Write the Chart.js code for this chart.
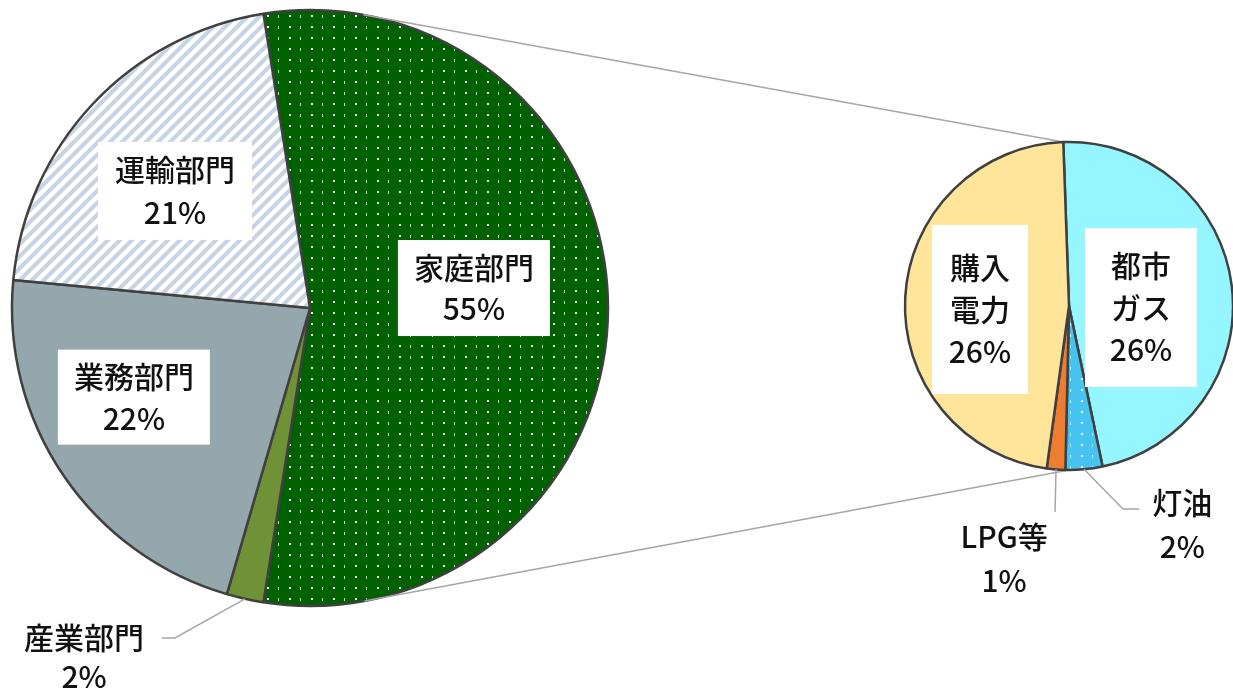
<!DOCTYPE html>
<html lang="ja">
<head>
<meta charset="utf-8">
<title>家庭部門のエネルギー消費</title>
<script src="https://cdn.jsdelivr.net/npm/chart.js@4.4.1/dist/chart.umd.min.js"></script>
<style>
  html, body { margin: 0; padding: 0; background: #fff; }
  #wrap { position: relative; width: 1233px; height: 691px; }
  #wrap canvas { position: absolute; left: 0; top: 0; }
</style>
</head>
<body>
<div id="wrap">
  <canvas id="chart-sector" width="1233" height="691"></canvas>
  <canvas id="chart-home" width="1233" height="691"></canvas>
</div>
<script>
// --- データ ---
// 部門別 (%)
const sectorLabels = ['家庭部門', '産業部門', '業務部門', '運輸部門'];
const sectorValues = [55, 2, 22, 21];

// 家庭部門の内訳 (全体に対する %)
const homeLabels = ['都市ガス', '灯油', 'LPG等', '購入電力'];
const homeValues = [26, 2, 1, 26];
const homeLabelLines = [['都市', 'ガス'], ['灯油'], ['LPG等'], ['購入', '電力']];

// --- ラベル配置 (半径単位, 円の中心から) ---
const sectorLayout = [
  { index: 0, box: [0.55, -0.067], size: [152, 96], lineH: 41 },
  { index: 1, leader: [[-0.453, 1.107], [-0.497, 1.107]], text: [-0.758, 1.173], lineH: 39 },
  { index: 2, box: [-0.591, 0.299], size: [152, 95], lineH: 42 },
  { index: 3, box: [-0.453, -0.393], size: [154, 98], lineH: 43 }
];
const homeLayout = [
  { index: 0, box: [0.439, 0.009], size: [112, 159], lineH: 42 },
  { index: 1, leader: [[0.329, 1.238], [0.427, 1.238]], text: [0.691, 1.335], lineH: 44 },
  { index: 2, leader: [[-0.085, 1.256]], text: [-0.396, 1.543], lineH: 44 },
  { index: 3, box: [-0.543, 0.021], size: [96, 169], lineH: 42 }
];

const FONT = '500 30px "Noto Sans CJK JP", "Noto Sans", sans-serif';
const TEXT_COLOR = '#111111';
const LINE_COLOR = '#a6a6a6';
const EDGE_COLOR = '#404040';

// --- パターン ---
function dotPattern(canvas, bg) {
  const t = document.createElement('canvas');
  t.width = 22; t.height = 11;
  const g = t.getContext('2d');
  g.fillStyle = bg;
  g.fillRect(0, 0, 22, 11);
  g.fillStyle = 'rgba(255,255,255,1)';
  g.fillRect(3, 4, 2, 2);
  g.fillStyle = 'rgba(255,255,255,0.75)';
  g.fillRect(14, 4, 1, 3);
  return canvas.getContext('2d').createPattern(t, 'repeat');
}

function stripePattern(canvas, bg, fg) {
  const t = document.createElement('canvas');
  t.width = 12; t.height = 12;
  const g = t.getContext('2d');
  g.fillStyle = bg;
  g.fillRect(0, 0, 12, 12);
  g.strokeStyle = fg;
  g.lineWidth = 4.2;
  g.beginPath();
  g.moveTo(-6, 6); g.lineTo(6, -6);
  g.moveTo(0, 12); g.lineTo(12, 0);
  g.moveTo(6, 18); g.lineTo(18, 6);
  g.stroke();
  return canvas.getContext('2d').createPattern(t, 'repeat');
}

// --- ラベル描画プラグイン ---
function makeLabelPlugin(layout, values, textOf) {
  return {
    id: 'boxLabels',
    afterDatasetsDraw(chart) {
      const ctx = chart.ctx;
      const arcs = chart.getDatasetMeta(0).data;
      const { x: cx, y: cy, outerRadius: r } = arcs[0].getProps(['x', 'y', 'outerRadius'], true);
      const px = p => cx + p[0] * r;
      const py = p => cy + p[1] * r;

      ctx.save();
      ctx.font = FONT;
      ctx.textAlign = 'center';
      ctx.textBaseline = 'middle';

      layout.forEach(item => {
        const lines = textOf(item.index).concat([values[item.index] + '%']);
        let tx, ty;
        if (item.box) {
          tx = px(item.box); ty = py(item.box);
          const [w, h] = item.size;
          ctx.fillStyle = '#ffffff';
          ctx.fillRect(tx - w / 2, ty - h / 2, w, h);
        } else {
          const arc = arcs[item.index].getProps(['startAngle', 'endAngle'], true);
          const mid = (arc.startAngle + arc.endAngle) / 2;
          ctx.strokeStyle = LINE_COLOR;
          ctx.lineWidth = 1.5;
          ctx.beginPath();
          ctx.moveTo(cx + Math.cos(mid) * r, cy + Math.sin(mid) * r);
          item.leader.forEach(p => ctx.lineTo(px(p), py(p)));
          ctx.stroke();
          tx = px(item.text); ty = py(item.text);
        }
        ctx.fillStyle = TEXT_COLOR;
        const top = ty - (lines.length - 1) * item.lineH / 2;
        lines.forEach((t, i) => ctx.fillText(t, tx, top + i * item.lineH));
      });
      ctx.restore();
    }
  };
}

const sectorCanvas = document.getElementById('chart-sector');
const homeCanvas = document.getElementById('chart-home');

const sectorChart = new Chart(sectorCanvas, {
  type: 'pie',
  data: {
    labels: sectorLabels,
    datasets: [{
      data: sectorValues,
      backgroundColor: [
        dotPattern(sectorCanvas, '#006100'),
        '#6f9236',
        '#94a7ac',
        stripePattern(sectorCanvas, '#ffffff', '#c8d4e3')
      ],
      borderColor: EDGE_COLOR,
      borderWidth: 2.5
    }]
  },
  options: {
    responsive: false,
    animation: false,
    devicePixelRatio: 1,
    rotation: -9,
    radius: 298,
    layout: { padding: { left: 10, top: 8, right: 623, bottom: 83 } },
    plugins: { legend: { display: false }, tooltip: { enabled: false } }
  },
  plugins: [makeLabelPlugin(sectorLayout, sectorValues, i => [sectorLabels[i]])]
});

// 左の円と右の円をつなぐ線
const connectorPlugin = {
  id: 'connector',
  beforeDatasetsDraw(chart) {
    const big = sectorChart.getDatasetMeta(0).data[0].getProps(['x', 'y', 'outerRadius'], true);
    const small = chart.getDatasetMeta(0).data[0].getProps(['x', 'y', 'outerRadius', 'startAngle'], true);
    const ends = [
      { x: small.x + Math.cos(small.startAngle) * small.outerRadius,
        y: small.y + Math.sin(small.startAngle) * small.outerRadius, side: -1 },
      { x: small.x, y: small.y + small.outerRadius, side: 1 }
    ];
    const ctx = chart.ctx;
    ctx.save();
    ctx.strokeStyle = LINE_COLOR;
    ctx.lineWidth = 1.5;
    ends.forEach(p => {
      const dx = p.x - big.x, dy = p.y - big.y;
      const d = Math.hypot(dx, dy);
      const a = Math.atan2(dy, dx) + p.side * Math.acos(big.outerRadius / d);
      ctx.beginPath();
      ctx.moveTo(big.x + Math.cos(a) * big.outerRadius, big.y + Math.sin(a) * big.outerRadius);
      ctx.lineTo(p.x, p.y);
      ctx.stroke();
    });
    ctx.restore();
  }
};

const homeChart = new Chart(homeCanvas, {
  type: 'pie',
  data: {
    labels: homeLabels,
    datasets: [{
      data: homeValues,
      backgroundColor: [
        '#95f6ff',
        dotPattern(homeCanvas, '#46c3ef'),
        '#ed7d31',
        '#ffe599'
      ],
      borderColor: EDGE_COLOR,
      borderWidth: 2.5
    }]
  },
  options: {
    responsive: false,
    animation: false,
    devicePixelRatio: 1,
    rotation: -2,
    radius: 164,
    layout: { padding: { left: 909, top: 146, right: 4, bottom: 225 } },
    plugins: { legend: { display: false }, tooltip: { enabled: false } }
  },
  plugins: [connectorPlugin, makeLabelPlugin(homeLayout, homeValues, i => homeLabelLines[i])]
});
</script>
</body>
</html>
